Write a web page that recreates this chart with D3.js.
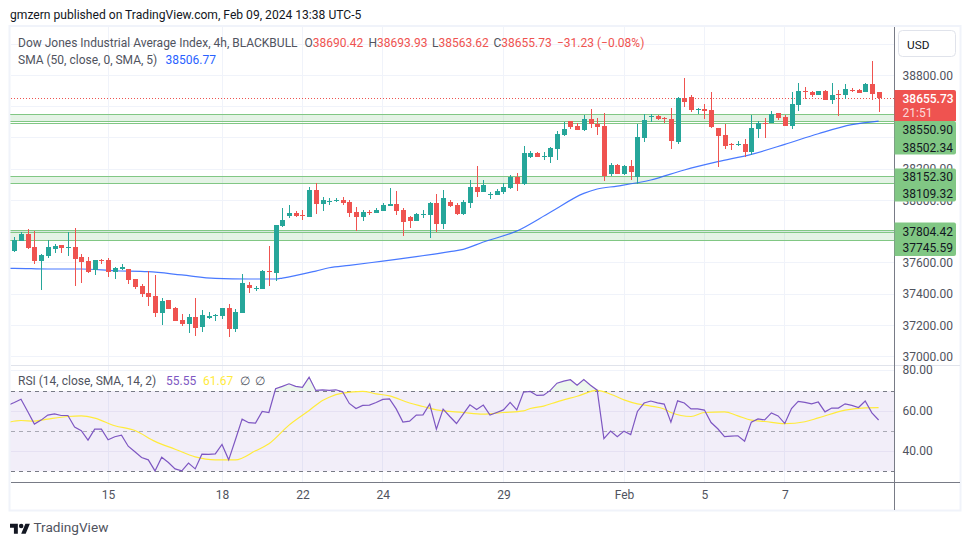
<!DOCTYPE html>
<html>
<head>
<meta charset="utf-8">
<script src="https://d3js.org/d3.v7.min.js"></script>
<style>
  html, body { margin: 0; padding: 0; background: #fff; }
  text { font-family: Roboto, sans-serif; }
</style>
</head>
<body>
<svg id="chart" width="970" height="545"></svg>
<script>
// candles, left to right
const opens = [37677,37739,37784,37701,37611,37643,37688,37714,37694,37701,37637,37611,37554,37618,37618,37541,37560,37560,37496,37451,37406,37387,37278,37361,37310,37233,37208,37253,37189,37246,37259,37259,37310,37176,37278,37458,37432,37432,37547,37534,37835,37899,37918,37906,37893,38066,37976,37989,37995,38002,37989,37925,37893,37925,37918,37931,37963,37976,37938,37893,37867,37906,37906,37982,37848,37989,37970,37912,37982,38085,38053,38034,38034,38053,38079,38149,38104,38277,38303,38277,38277,38328,38418,38507,38475,38450,38520,38488,38475,38168,38226,38168,38219,38149,38399,38533,38539,38527,38520,38373,38655,38661,38578,38584,38578,38463,38418,38360,38354,38360,38309,38456,38495,38495,38559,38533,38475,38610,38699,38693,38674,38699,38642,38680,38674,38706,38706,38693,38744,38690.42];
const highs = [37765,37797,37816,37803,37656,37746,37720,37714,37797,37822,37656,37637,37618,37624,37630,37573,37592,37562,37496,37464,37547,37522,37374,37361,37317,37272,37272,37374,37297,37285,37272,37310,37336,37304,37528,37477,37451,37554,37707,37842,37950,37970,37931,37938,38085,38108,38021,38015,38012,38021,38002,37957,37938,37938,37950,37982,38079,38059,37950,37899,37918,37938,37989,38040,38066,38002,37982,38002,38130,38219,38130,38053,38072,38108,38162,38175,38347,38315,38309,38309,38341,38443,38501,38507,38495,38546,38584,38527,38559,38239,38232,38226,38258,38488,38552,38552,38546,38533,38591,38661,38783,38674,38591,38616,38693,38463,38488,38367,38379,38392,38546,38507,38527,38571,38559,38546,38693,38751,38725,38699,38699,38706,38751,38706,38744,38719,38712,38751,38892,38693.93];
const lows = [37671,37739,37688,37594,37426,37630,37662,37662,37643,37451,37470,37534,37522,37592,37509,37496,37554,37464,37432,37381,37323,37253,37201,37304,37227,37195,37150,37131,37157,37240,37227,37240,37125,37157,37278,37406,37419,37432,37451,37483,37829,37886,37893,37874,37893,37912,37931,37970,37989,37970,37893,37803,37867,37906,37918,37931,37963,37906,37771,37822,37867,37886,37758,37797,37816,37957,37906,37906,37950,38021,38053,38008,38034,38040,38072,38059,38098,38271,38277,38258,38239,38258,38411,38456,38450,38443,38463,38418,38123,38155,38168,38162,38130,38104,38373,38501,38514,38495,38328,38360,38597,38565,38552,38520,38463,38213,38328,38322,38347,38277,38290,38399,38399,38495,38514,38475,38456,38571,38648,38661,38674,38642,38616,38539,38648,38693,38687,38693,38642,38563.62];
const closes = [37746,37784,37694,37611,37650,37701,37707,37694,37701,37624,37605,37541,37618,37611,37541,37566,37573,37490,37445,37400,37381,37278,37355,37304,37227,37208,37253,37182,37265,37259,37265,37310,37176,37285,37470,37438,37438,37547,37541,37842,37874,37918,37899,37899,38066,37976,38002,37995,38002,37982,37918,37893,37925,37918,37938,37970,37976,37931,37861,37867,37912,37912,37982,37848,38015,37963,37912,37989,38085,38053,38098,38040,38059,38085,38149,38104,38303,38303,38277,38283,38335,38424,38456,38469,38450,38520,38488,38469,38155,38226,38168,38219,38181,38405,38514,38539,38520,38520,38379,38655,38629,38578,38584,38571,38469,38411,38347,38354,38360,38309,38463,38495,38488,38552,38527,38475,38616,38699,38693,38674,38699,38642,38674,38674,38712,38699,38687,38744,38680,38655.73];

// SMA 50, read at these candle positions
const smaIndex = [-1,0,5,10,15,20,25,30,35,39,40,45,47,50,55,60,65,67,70,75,80,85,87,90,95,100,105,110,115,120,125,129];
const smaValues = [37563,37564,37560,37560,37549,37543,37522,37500,37496,37496,37502,37547,37568,37583,37611,37639,37671,37686,37733,37803,37923,38044,38072,38091,38130,38194,38247,38294,38358,38426,38484,38506.77];

// RSI, one per candle, the first one sits just left of the pane
const rsiValues = [62.8,64.3,65.9,59.8,53.5,55.5,58.0,58.6,57.8,57.8,52.0,50.2,45.5,51.0,51.0,45.7,47.2,48.0,42.5,39.7,36.9,35.7,30.2,37.0,34.4,31.2,30.2,34.1,31.2,38.5,38.4,38.7,43.4,35.7,45.7,56.0,54.2,54.0,59.8,59.3,71.1,72.3,73.6,72.3,71.8,76.9,70.3,70.6,70.3,70.6,69.6,63.8,61.3,62.8,63.0,64.3,65.8,66.1,61.1,54.5,55.0,58.0,58.1,63.5,51.0,61.0,57.3,53.8,58.5,63.1,60.8,63.0,58.0,59.3,60.6,64.3,60.6,69.4,69.8,67.8,67.9,70.3,73.9,74.9,75.6,72.9,75.7,72.9,70.4,46.3,50.0,47.2,50.0,48.3,59.8,64.0,65.0,64.1,63.5,54.5,65.1,64.0,61.1,61.1,60.5,54.3,51.2,47.3,47.5,47.7,45.0,54.5,56.1,55.6,59.1,57.6,53.8,61.3,64.8,64.3,63.6,64.5,59.6,61.5,61.5,63.6,62.8,61.8,65.0,59.1,55.55];
const rsiMaIndex = [-1,1,3,5,8,10,12,15,18,21,24,27,30,33,36,38,41,44,46,47,49,52,54,56,59,61,63,67,70,73,76,77,79,81,84,87,89,91,93,95,97,98,101,103,106,108,110,112,115,118,120,124,127,129];
const rsiMaValues = [54.3,55.3,55.0,56.0,57.3,57.6,56.5,52.7,50.3,44.9,41.0,37.2,35.7,35.7,40.2,43.7,53.0,60.3,65.3,66.9,68.9,69.8,68.6,67.6,64.0,62.3,60.6,59.3,58.5,59.3,60.1,61.3,62.5,64.6,67.4,70.3,68.4,65.6,63.6,62.5,61.0,59.3,57.3,59.3,59.6,57.6,55.5,54.8,53.7,54.7,56.6,60.5,61.6,61.67];

// support zones drawn on the chart
const zoneTops = [38550.9,38546,38152.3,37804.42,37795];
const zoneBottoms = [38502.34,38492,38109.32,37745.59,37745.59];

// axes, the labels fully behind the price boxes are left out of labelTicks
const priceTicks = [38800,38600,38400,38200,38000,37800,37600,37400,37200,37000];
const labelTicks = [38800,38200,38000,37600,37400,37200,37000];
const rsiTicks = [80,60,40];
const dateIndex = [14,31,43,55,73,91,103,115];
const dateLabels = ["15","18","22","24","29","Feb","5","7"];

const lastPrice = 38655.73;
const red = "#ef5350", green = "#26a69a", zoneGreen = "#81c784", textGrey = "#50535e";
const fontSize = 12;

const left = 10.5, right = 894.5, paneTop = 27, sep = 365.5, bottom = 482.5, outerRight = 959.5, outerBottom = 509.5;

const svg = d3.select("#chart");
const x = d3.scaleLinear().domain([0, 129]).range([14.3, 878.6]);
const y = d3.scaleLinear().domain([37000, 38800]).range([356.5, 75.3]);
const yRsi = d3.scaleLinear().domain([30, 70]).range([471.3, 391]);

const defs = svg.append("defs");
defs.append("clipPath").attr("id", "mainClip").append("rect")
  .attr("x", left).attr("y", paneTop).attr("width", right - left).attr("height", sep - paneTop);
defs.append("clipPath").attr("id", "rsiClip").append("rect")
  .attr("x", left).attr("y", sep).attr("width", right - left).attr("height", bottom - sep);
defs.append("clipPath").attr("id", "overClip").append("rect")
  .attr("x", left).attr("y", sep).attr("width", right - left).attr("height", yRsi(70) - sep);

// header
svg.append("text").attr("x", 10).attr("y", 19).attr("font-size", 12.1).attr("fill", "#131722")
  .text("gmzern published on TradingView.com, Feb 09, 2024 13:38 UTC-5");

// outer frame
svg.append("rect").attr("x", left - 1).attr("y", paneTop - 1).attr("width", outerRight - left + 2).attr("height", outerBottom - paneTop + 2)
  .attr("fill", "none").attr("stroke", "#f0f3fa").attr("stroke-width", 2);

// grid
const grid = svg.append("g").attr("stroke", "#f0f3fa").attr("shape-rendering", "crispEdges");
grid.selectAll(".gv").data(dateIndex).join("line")
  .attr("x1", d => x(d)).attr("x2", d => x(d)).attr("y1", paneTop).attr("y2", bottom);
grid.selectAll(".gh").data([39000].concat(priceTicks)).join("line")
  .attr("x1", left).attr("x2", right).attr("y1", d => y(d)).attr("y2", d => y(d));

// RSI band and its grid
svg.append("rect").attr("x", left).attr("width", right - left)
  .attr("y", yRsi(70)).attr("height", yRsi(30) - yRsi(70)).attr("fill", "#7e57c2").attr("fill-opacity", 0.1);
svg.append("g").attr("shape-rendering", "crispEdges").selectAll("line").data(rsiTicks).join("line")
  .attr("x1", left).attr("x2", right)
  .attr("y1", d => yRsi(d)).attr("y2", d => yRsi(d))
  .attr("stroke", d => d === 80 ? "#f0f3fa" : "#e6e1f3");

// zones, the second rectangle of a pair only adds its outline
svg.append("g").attr("clip-path", "url(#mainClip)").attr("shape-rendering", "crispEdges")
  .selectAll("rect").data(zoneTops).join("rect")
  .attr("x", left - 5).attr("width", right - left + 10)
  .attr("y", d => y(d)).attr("height", (d, i) => y(zoneBottoms[i]) - y(d))
  .attr("fill", (d, i) => (i === 1 || i === 4) ? "none" : "#4caf50").attr("fill-opacity", 0.15)
  .attr("stroke", zoneGreen).attr("stroke-width", 1);

// last price line
svg.append("line").attr("x1", left).attr("x2", right)
  .attr("y1", Math.round(y(lastPrice)) + 0.5).attr("y2", Math.round(y(lastPrice)) + 0.5)
  .attr("stroke", red).attr("stroke-dasharray", "1 2").attr("stroke-width", 1).attr("shape-rendering", "crispEdges");

// SMA goes under the candles
const smaLine = d3.line().curve(d3.curveMonotoneX).x(d => x(d[0])).y(d => y(d[1]));
svg.append("path").datum(smaIndex.map((d, i) => [d, smaValues[i]]))
  .attr("clip-path", "url(#mainClip)")
  .attr("d", smaLine).attr("fill", "none").attr("stroke", "#2962ff").attr("stroke-width", 1.2).attr("stroke-opacity", 0.85);

// candles
const candles = svg.append("g").attr("clip-path", "url(#mainClip)").attr("shape-rendering", "crispEdges")
  .selectAll("g").data(opens).join("g")
  .attr("fill", (d, i) => closes[i] >= d ? green : red);
candles.append("rect")
  .attr("x", (d, i) => Math.round(x(i)))
  .attr("width", 1)
  .attr("y", (d, i) => y(highs[i]))
  .attr("height", (d, i) => y(lows[i]) - y(highs[i]));
candles.append("rect")
  .attr("x", (d, i) => Math.round(x(i)) - 2)
  .attr("width", 5)
  .attr("y", (d, i) => y(Math.max(d, closes[i])))
  .attr("height", (d, i) => Math.max(1, Math.abs(y(d) - y(closes[i]))));

// RSI pane
const rsiPts = rsiValues.map((d, i) => [i - 1, d]);
const rsiLine = d3.line().x(d => x(d[0])).y(d => yRsi(d[1]));
const rsiMaLine = d3.line().curve(d3.curveMonotoneX).x(d => x(d[0])).y(d => yRsi(d[1]));
const rsiArea = d3.area().x(d => x(d[0])).y0(yRsi(70)).y1(d => yRsi(d[1]));
svg.append("path").datum(rsiPts).attr("d", rsiArea).attr("clip-path", "url(#overClip)")
  .attr("fill", "#4caf50").attr("fill-opacity", 0.1);
svg.selectAll(".rsiDash").data([70, 50, 30]).join("line")
  .attr("x1", left).attr("x2", right)
  .attr("y1", d => yRsi(d)).attr("y2", d => yRsi(d))
  .attr("stroke", "#787b86")
  .attr("stroke-opacity", d => d === 50 ? 0.6 : 1)
  .attr("stroke-dasharray", "4 4").attr("shape-rendering", "crispEdges");
svg.append("path").datum(rsiMaIndex.map((d, i) => [d, rsiMaValues[i]]))
  .attr("clip-path", "url(#rsiClip)")
  .attr("d", rsiMaLine).attr("fill", "none").attr("stroke", "#ffeb3b").attr("stroke-width", 1.2);
svg.append("path").datum(rsiPts).attr("clip-path", "url(#rsiClip)")
  .attr("d", rsiLine).attr("fill", "none").attr("stroke", "#7e57c2").attr("stroke-width", 1.2);

// axis lines and pane separators
const frameLines = svg.append("g").attr("shape-rendering", "crispEdges");
frameLines.append("line").attr("x1", left).attr("x2", outerRight).attr("y1", sep).attr("y2", sep).attr("stroke", "#e0e3eb");
frameLines.append("line").attr("x1", left).attr("x2", outerRight).attr("y1", bottom).attr("y2", bottom).attr("stroke", "#787b86");
frameLines.append("line").attr("x1", right).attr("x2", right).attr("y1", paneTop).attr("y2", outerBottom).attr("stroke", "#787b86");

// price axis
const priceAxis = d3.axisRight(y).tickValues(labelTicks).tickSize(0).tickPadding(8).tickFormat(d3.format(".2f"));
const pAxisG = svg.append("g").attr("transform", `translate(${right},0)`).call(priceAxis);
pAxisG.select(".domain").remove();
pAxisG.selectAll("text").attr("font-size", fontSize).attr("font-family", "Roboto, sans-serif").attr("fill", textGrey);

// RSI axis
const rsiAxis = d3.axisRight(yRsi).tickValues(rsiTicks).tickSize(0).tickPadding(8).tickFormat(d3.format(".2f"));
const rAxisG = svg.append("g").attr("transform", `translate(${right},0)`).call(rsiAxis);
rAxisG.select(".domain").remove();
rAxisG.selectAll("text").attr("font-size", fontSize).attr("font-family", "Roboto, sans-serif").attr("fill", textGrey).attr("dy", "0.25em");

// date axis
const dateAxis = d3.axisBottom(x).tickValues(dateIndex).tickSize(0).tickPadding(8)
  .tickFormat(d => dateLabels[dateIndex.indexOf(d)]);
const dAxisG = svg.append("g").attr("transform", `translate(0,${bottom})`).call(dateAxis);
dAxisG.select(".domain").remove();
dAxisG.selectAll("text").attr("font-size", fontSize).attr("font-family", "Roboto, sans-serif").attr("fill", textGrey);

// USD button
svg.append("rect").attr("x", 898.5).attr("y", 30.5).attr("width", 57).attr("height", 26).attr("rx", 4)
  .attr("fill", "#fff").attr("stroke", "#e0e3eb");
svg.append("text").attr("x", 907).attr("y", 48.5).attr("font-size", 11.8).attr("fill", "#131722").text("USD");

// price labels on the axis
const labelBoxes = [
  { y0: 121, y1: 154.5, rows: [["38550.90", 134], ["38502.34", 151.5]] },
  { y0: 168.5, y1: 201.5, rows: [["38152.30", 181], ["38109.32", 197.5]] },
  { y0: 222.5, y1: 256, rows: [["37804.42", 235.5], ["37745.59", 251.5]] }
];
labelBoxes.forEach(b => {
  svg.append("path").attr("fill", zoneGreen)
    .attr("d", `M${right},${b.y0}H954a2,2 0 0 1 2,2V${b.y1 - 2}a2,2 0 0 1 -2,2H${right}Z`);
  b.rows.forEach(r => {
    svg.append("text").attr("x", 902.5).attr("y", r[1]).attr("font-size", fontSize).attr("fill", "#131722").text(r[0]);
  });
});
svg.append("path").attr("fill", red).attr("d", `M${right},90H954a2,2 0 0 1 2,2V121H${right}Z`);
svg.append("text").attr("x", 902.5).attr("y", 103).attr("font-size", fontSize).attr("font-weight", 500).attr("fill", "#fff").text("38655.73");
svg.append("text").attr("x", 902.5).attr("y", 117).attr("font-size", fontSize).attr("fill", "#fff").attr("fill-opacity", 0.8).text("21:51");

// legends
svg.append("text").attr("x", 18).attr("y", 46.5).attr("font-size", fontSize).attr("fill", textGrey)
  .text("Dow Jones Industrial Average Index, 4h, BLACKBULL");
[["O", "38690.42", 304.5], ["H", "38693.93", 368.5], ["L", "38563.62", 432], ["C", "38655.73", 493.5]].forEach(d => {
  const t = svg.append("text").attr("x", d[2]).attr("y", 46.5).attr("font-size", fontSize).attr("fill", textGrey);
  t.append("tspan").text(d[0]);
  t.append("tspan").attr("fill", red).text(d[1]);
});
svg.append("text").attr("x", 557).attr("y", 46.5).attr("font-size", fontSize).attr("fill", red).text("\u221231.23 (\u22120.08%)");

svg.append("text").attr("x", 18).attr("y", 63.5).attr("font-size", fontSize).attr("fill", textGrey).text("SMA (50, close, 0, SMA, 5)");
svg.append("text").attr("x", 165.5).attr("y", 63.5).attr("font-size", fontSize).attr("fill", "#2962ff").text("38506.77");

svg.append("text").attr("x", 18).attr("y", 385).attr("font-size", fontSize).attr("fill", textGrey).text("RSI (14, close, SMA, 14, 2)");
svg.append("text").attr("x", 166).attr("y", 385).attr("font-size", fontSize).attr("fill", "#7e57c2").text("55.55");
svg.append("text").attr("x", 203).attr("y", 385).attr("font-size", fontSize).attr("fill", "#ffeb3b").text("61.67");
svg.append("text").attr("x", 240).attr("y", 385).attr("font-size", fontSize).attr("fill", textGrey).text("\u2205");
svg.append("text").attr("x", 255).attr("y", 385).attr("font-size", fontSize).attr("fill", textGrey).text("\u2205");

// footer logo
const logo = svg.append("g").attr("transform", "translate(10,521.5) scale(0.56)").attr("fill", "#131722");
logo.append("path").attr("d", "M14 22H7V11H0V4h14v18zM28 22h-8l7.5-18h8L28 22z");
logo.append("circle").attr("cx", 20).attr("cy", 8).attr("r", 4);
svg.append("text").attr("x", 33.5).attr("y", 532).attr("font-size", 13.6).attr("fill", "#50535e").text("TradingView");
</script>
</body>
</html>
